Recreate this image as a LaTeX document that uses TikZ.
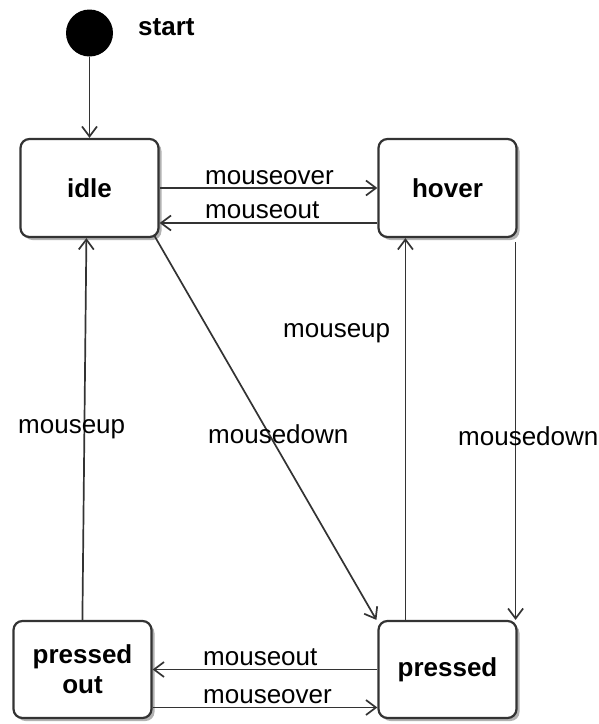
\documentclass[tikz,border=0pt]{standalone}
\usepackage{fontspec}
\setmainfont{Liberation Sans}
\usetikzlibrary{arrows.meta,shadows}
\begin{document}
\begin{tikzpicture}[x=1pt,y=-1pt,
  every node/.style={font=\fontsize{26}{30}\selectfont},
  state/.style={draw=black!80, line width=2.2pt, fill=white, rounded corners=9pt,
    minimum width=138pt, minimum height=98pt, align=center,
    font=\fontsize{26}{30}\selectfont\bfseries,
    drop shadow={shadow xshift=3pt, shadow yshift=-3pt, opacity=0.3, fill=black}},
  trans/.style={draw=black!80, line width=1.7pt, -{Straight Barb[length=10pt,width=15pt,line width=1.7pt]}},
  lbl/.style={anchor=base west, inner sep=0pt}]
\useasboundingbox (0,0) rectangle (599,724);
\node[circle, fill=black, minimum size=47pt, inner sep=0pt] (start) at (89.5,33) {};
\node[lbl, font=\fontsize{26}{30}\selectfont\bfseries] (startl) at (138,35) {start};
\node[state] (idle) at (89.5,188) {idle};
\node[state] (hover) at (447.5,188) {hover};
\node[state, minimum height=97pt] (pout) at (82.5,669.5) {pressed\\out};
\node[state, minimum height=97pt] (pressed) at (447.5,669.5) {pressed};
% start
\draw[trans] (start.south) -- (idle.north);
% idle <-> hover
\draw[trans] (idle.east) -- (hover.west);
\draw[trans] ([yshift=-35pt]hover.west) -- ([yshift=-35pt]idle.east);
\node[lbl] (l1) at (205,184) {mouseover};
\node[lbl] (l2) at (205,218) {mouseout};
% idle -> pressed
\draw[trans] ([xshift=-5pt,yshift=2pt]idle.south east) -- ([xshift=-1pt]pressed.north west);
\node[lbl] (l3) at (208,443) {mousedown};
% hover -> pressed
\draw[trans] ([xshift=-2pt,yshift=-4pt]hover.south east) -- ([xshift=-2pt]pressed.north east);
\node[lbl] (l4) at (458,445) {mousedown};
% pressed -> hover
\draw[trans] ([xshift=28pt]pressed.north west) -- ([xshift=28pt]hover.south west);
\node[lbl] (l5) at (283,337) {mouseup};
% pressed out -> idle
\draw[trans] ([xshift=70pt]pout.north west) -- ([xshift=67pt]idle.south west);
\node[lbl] (l6) at (18,433) {mouseup};
% pressed <-> pressed out
\draw[trans] (pressed.west) -- (pout.east);
\draw[trans] ([yshift=-38pt]pout.east) -- ([yshift=-38pt]pressed.west);
\node[lbl] (l7) at (203,665) {mouseout};
\node[lbl] (l8) at (203,703) {mouseover};
\end{tikzpicture}
\end{document}
